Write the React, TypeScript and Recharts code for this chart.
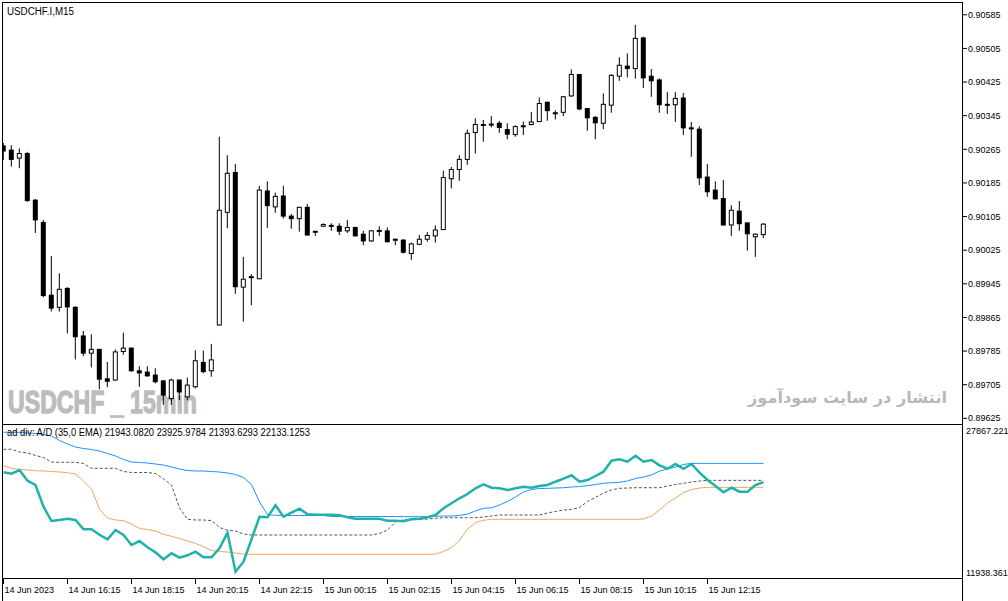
import { ComposedChart, Bar, XAxis, YAxis, LineChart, Line } from 'recharts'

// 15-minute candles, 14 Jun 14:15 .. 15 Jun 14:00
const OPEN = [
  0.90273, 0.90263, 0.90244, 0.90255, 0.90144, 0.90091, 0.89918, 0.89889, 0.89934, 0.89889,
  0.89821, 0.8978, 0.89789, 0.89719, 0.89716, 0.89784, 0.89792, 0.89738, 0.89735, 0.89728,
  0.89714, 0.89672, 0.89716, 0.89676, 0.897, 0.89758, 0.89738, 0.89847, 0.90115, 0.9021,
  0.89937, 0.8996, 0.89957, 0.90166, 0.90128, 0.90154, 0.90106, 0.901, 0.90127, 0.9007,
  0.90082, 0.90084, 0.90082, 0.90071, 0.90079, 0.90063, 0.90047, 0.90071, 0.90071, 0.90051,
  0.90049, 0.90017, 0.90039, 0.90051, 0.90059, 0.90074, 0.90195, 0.90217, 0.90241, 0.90305,
  0.90324, 0.90324, 0.90327, 0.90312, 0.903, 0.9032, 0.90324, 0.90331, 0.90377, 0.90352,
  0.90353, 0.90392, 0.90443, 0.90362, 0.90341, 0.90327, 0.9037, 0.90439, 0.90463, 0.90457,
  0.9053, 0.90439, 0.9043, 0.90372, 0.90371, 0.90387, 0.90316, 0.90313, 0.90199, 0.90168,
  0.90148, 0.90085, 0.90118, 0.9009, 0.90057, 0.90062,
]
const HIGH = [
  0.9028, 0.90275, 0.90267, 0.90259, 0.90147, 0.90097, 0.90011, 0.8997, 0.89937, 0.89892,
  0.89833, 0.89825, 0.8979, 0.89759, 0.89789, 0.89829, 0.89793, 0.89749, 0.89749, 0.89744,
  0.89716, 0.89719, 0.89717, 0.89722, 0.89787, 0.89786, 0.89802, 0.90295, 0.90251, 0.9023,
  0.90009, 0.89968, 0.90178, 0.90189, 0.90162, 0.90178, 0.90111, 0.90128, 0.90135, 0.90071,
  0.90089, 0.90089, 0.90089, 0.90097, 0.90081, 0.90071, 0.90073, 0.90082, 0.90079, 0.90053,
  0.90051, 0.90043, 0.90061, 0.90068, 0.90084, 0.90214, 0.90223, 0.90251, 0.90312, 0.90339,
  0.90335, 0.90344, 0.90332, 0.90327, 0.90322, 0.90331, 0.90354, 0.90388, 0.90378, 0.90358,
  0.90392, 0.90455, 0.90444, 0.90363, 0.90344, 0.90398, 0.90444, 0.90484, 0.90493, 0.90561,
  0.90533, 0.90456, 0.90434, 0.90401, 0.90401, 0.90399, 0.9033, 0.9032, 0.9023, 0.90189,
  0.90192, 0.90132, 0.90142, 0.90091, 0.90065, 0.90089,
]
const LOW = [
  0.9024, 0.90224, 0.9022, 0.9014, 0.90066, 0.89913, 0.89879, 0.89879, 0.89827, 0.89765,
  0.89773, 0.89746, 0.89694, 0.89699, 0.89714, 0.89776, 0.89736, 0.897, 0.89724, 0.89708,
  0.89657, 0.89657, 0.89668, 0.89668, 0.89696, 0.89732, 0.89724, 0.89846, 0.90077, 0.89921,
  0.89855, 0.89894, 0.89956, 0.90078, 0.90114, 0.901, 0.90076, 0.90069, 0.9006, 0.90059,
  0.90081, 0.90071, 0.90061, 0.90066, 0.90058, 0.90037, 0.90045, 0.90059, 0.90044, 0.90037,
  0.90017, 0.90002, 0.90037, 0.90045, 0.90043, 0.90073, 0.90172, 0.9019, 0.90228, 0.90255,
  0.90283, 0.90317, 0.90304, 0.90289, 0.90295, 0.90299, 0.90322, 0.9033, 0.90333, 0.90336,
  0.90344, 0.9039, 0.90358, 0.90309, 0.90289, 0.90313, 0.90352, 0.90428, 0.90436, 0.90433,
  0.90411, 0.9039, 0.90352, 0.90349, 0.9033, 0.90299, 0.90247, 0.9018, 0.90152, 0.90146,
  0.90083, 0.90059, 0.90071, 0.90024, 0.90009, 0.90054,
]
const CLOSE = [
  0.90261, 0.90241, 0.90255, 0.90143, 0.90097, 0.89917, 0.89887, 0.89932, 0.8989, 0.89819,
  0.8978, 0.89789, 0.89718, 0.89713, 0.89783, 0.89792, 0.89738, 0.89733, 0.89726, 0.89712,
  0.8968, 0.89716, 0.89688, 0.89704, 0.89762, 0.89736, 0.89764, 0.9012, 0.90208, 0.89938,
  0.89956, 0.89962, 0.90168, 0.90131, 0.90153, 0.90106, 0.901, 0.90127, 0.90061, 0.90069,
  0.90086, 0.90082, 0.9007, 0.90079, 0.90059, 0.90047, 0.90071, 0.90072, 0.90045, 0.9005,
  0.9002, 0.9004, 0.90051, 0.9006, 0.90073, 0.90198, 0.90217, 0.90241, 0.90303, 0.90324,
  0.90323, 0.90325, 0.90317, 0.90301, 0.90319, 0.90321, 0.9033, 0.90374, 0.90357, 0.90351,
  0.9039, 0.90443, 0.90361, 0.9034, 0.90328, 0.90372, 0.90441, 0.90465, 0.90457, 0.90529,
  0.90435, 0.90428, 0.90371, 0.90371, 0.90386, 0.90316, 0.90315, 0.90197, 0.90164, 0.90147,
  0.90085, 0.9012, 0.90088, 0.90064, 0.90063, 0.90087,
]

// ad div indicator buffers
const AD = [
  22982, 22835, 23225, 22096, 21643, 19353, 17845, 17950, 18087, 17950,
  16969, 16969, 16399, 15914, 16895, 16368, 15313, 15735, 15070, 14542,
  13804, 14437, 13973, 14226, 14606, 14015, 14015, 14964, 16610, 12496,
  13551, 15914, 18298, 18235, 19501, 18298, 18720, 19142, 18551, 18509,
  18509, 18509, 18446, 18235, 18087, 18087, 18087, 18087, 17876, 17876,
  17813, 18024, 18087, 18235, 18478, 19184, 19712, 20239, 20693, 21294,
  21716, 21358, 21294, 21115, 21294, 21463, 21358, 21537, 21643, 21991,
  22307, 22666, 21991, 22170, 22592, 23046, 24206, 24354, 24101, 24734,
  24101, 24280, 23721, 23362, 23858, 23362, 23858, 22940, 22170, 21537,
  20872, 21358, 20936, 20936, 21643, 21943,
]
const AD_UPPER = [
  27202, 27202, 27202, 27129, 27076, 26970, 26812, 26337, 25968, 25652,
  25493, 25388, 25230, 24966, 24702, 24333, 24069, 24016, 23964, 23858,
  23753, 23542, 23331, 23172, 23120, 23120, 23067, 23014, 22909, 22750,
  22434, 21695, 19849, 18530, 18446, 18425, 18425, 18425, 18425, 18425,
  18425, 18319, 18319, 18319, 18319, 18319, 18319, 18319, 18319, 18319,
  18298, 18298, 18298, 18319, 18340, 18372, 18372, 18425, 18583, 18900,
  19184, 19237, 19533, 19902, 20377, 20904, 21168, 21273, 21294, 21326,
  21358, 21432, 21484, 21569, 21695, 21822, 21885, 21927, 22065, 22328,
  22487, 22698, 23120, 23331, 23542, 23805, 23926, 23926, 23926, 23926,
  23926, 23926, 23926, 23926, 23926, 23926,
]
const AD_LOWER = [
  23700, 23404, 23299, 23225, 23151, 23120, 23067, 23014, 22940, 22803,
  22065, 21221, 19111, 18161, 17950, 17876, 17528, 17053, 16948, 16790,
  16441, 16230, 15998, 15735, 15471, 15154, 14732, 14627, 14574, 14469,
  14363, 14331, 14331, 14331, 14331, 14331, 14331, 14331, 14331, 14331,
  14331, 14331, 14331, 14331, 14331, 14331, 14331, 14331, 14331, 14331,
  14331, 14331, 14331, 14331, 14363, 14627, 15049, 15787, 17001, 17686,
  17918, 18024, 18024, 18024, 18024, 18024, 18024, 18024, 18024, 18024,
  18024, 18024, 18024, 18024, 18024, 18024, 18024, 18024, 18024, 18024,
  18056, 18372, 19005, 19744, 20271, 20851, 21168, 21326, 21394, 21394,
  21394, 21394, 21394, 21394, 21394, 21394,
]
const AD_EMA = [
  25409, 25409, 25124, 25019, 24755, 24544, 24069, 24037, 24037, 24037,
  23911, 23404, 23404, 23404, 23404, 23067, 22961, 22961, 22961, 22856,
  22276, 21643, 19216, 18024, 17950, 17950, 17897, 17159, 16863, 16790,
  16473, 16368, 16368, 16368, 16368, 16368, 16368, 16368, 16368, 16368,
  16368, 16368, 16368, 16368, 16368, 16368, 16368, 16526, 16895, 17739,
  17982, 18024, 18024, 18056, 18129, 18193, 18193, 18193, 18193, 18193,
  18267, 18372, 18478, 18478, 18478, 18478, 18478, 18478, 18689, 18847,
  19005, 19058, 19269, 19902, 20324, 20799, 21136, 21294, 21326, 21358,
  21358, 21358, 21358, 21537, 21695, 21822, 21959, 22065, 22133, 22133,
  22133, 22133, 22133, 22133, 22133, 22133,
]

const TIME_TICKS = [0, 8, 16, 24, 32, 40, 48, 56, 64, 72, 80, 88]
const TIME_LABELS = [
  '14 Jun 2023', '14 Jun 16:15', '14 Jun 18:15', '14 Jun 20:15', '14 Jun 22:15', '15 Jun 00:15',
  '15 Jun 02:15', '15 Jun 04:15', '15 Jun 06:15', '15 Jun 08:15', '15 Jun 10:15', '15 Jun 12:15',
]
const PRICE_TICKS = [
  0.89625, 0.89705, 0.89785, 0.89865, 0.89945, 0.90025, 0.90105,
  0.90185, 0.90265, 0.90345, 0.90425, 0.90505, 0.90585,
]
const PRICE_DOMAIN = [0.896162, 0.906131]
const AD_DOMAIN = [11938.361, 27867.221]
const SLOTS = 120

const FONT = '"Liberation Sans", Arial, sans-serif'

const candles = Array.from({ length: SLOTS }, (_, i) =>
  i < OPEN.length ? { i, open: OPEN[i], high: HIGH[i], low: LOW[i], close: CLOSE[i] } : { i }
)
const adRows = AD.map((v, i) => ({ i, ad: v, upper: AD_UPPER[i], lower: AD_LOWER[i], ema: AD_EMA[i] }))

function Candle(props: any) {
  const { x, y, width, height, payload } = props
  if (!payload || payload.high == null) return null
  const top = Math.min(y, y + height)
  const span = Math.abs(height)
  const k = span / (payload.high - payload.low)
  const py = (v: number) => top + (payload.high - v) * k
  const cx = x + width / 2 - 0.5
  const up = payload.close >= payload.open
  const bTop = py(Math.max(payload.open, payload.close))
  const bH = Math.max(py(Math.min(payload.open, payload.close)) - bTop, 1)
  return (
    <g>
      <line x1={cx} x2={cx} y1={top} y2={top + span} stroke="#000" />
      {up
        ? <rect x={cx - 2} y={bTop} width={4} height={bH} fill="#fff" stroke="#000" />
        : <rect x={cx - 2.5} y={bTop - 0.5} width={5} height={bH + 1} fill="#000" />}
    </g>
  )
}

function TimeTick(props: any) {
  const { x, payload } = props
  const label = TIME_LABELS[TIME_TICKS.indexOf(payload.value)]
  return (
    <g>
      <line x1={x} x2={x} y1={155} y2={160} stroke="#000" />
      <text x={x + 1} y={169} fontSize={9} fontFamily={FONT} fill="#000">{label}</text>
    </g>
  )
}

export default function App() {
  return (
    <div style={{ position: 'absolute', left: 0, top: 0, width: 1008, height: 601, overflow: 'hidden', background: '#fff' }}>
      <svg width={1008} height={601} style={{ position: 'absolute', left: 0, top: 0 }}>
        <text x={8} y={413} fontSize={31} fontWeight="bold" fontFamily={FONT}
          fill="#bcbcbc" stroke="#bcbcbc" strokeWidth={1.3} textLength={189} lengthAdjust="spacingAndGlyphs">USDCHF _ 15min</text>
        <text x={748} y={403} fontSize={16} fontWeight="bold" fontFamily='"DejaVu Sans", sans-serif'
          fill="#b8b8b8" textLength={199} lengthAdjust="spacingAndGlyphs">انتشار در سایت سودآموز</text>
      </svg>

      <div style={{ position: 'absolute', left: 0, top: 0 }}>
        <ComposedChart width={1008} height={422} data={candles} margin={{ top: 3, right: 0, bottom: 0, left: 0 }}>
          <XAxis dataKey="i" type="category" scale="band" hide padding={{ left: 0, right: 3 }} />
          <YAxis
            orientation="right"
            width={45}
            domain={PRICE_DOMAIN}
            allowDataOverflow
            ticks={PRICE_TICKS}
            interval={0}
            tickFormatter={(v: number) => v.toFixed(5)}
            axisLine={false}
            tickLine={{ stroke: '#000' }}
            tickSize={4}
            tickMargin={1}
            tick={{ fontSize: 9, fill: '#000', fontFamily: FONT }}
          />
          <Bar
            dataKey={(d: any) => (d.high != null ? [d.low, d.high] : undefined)}
            shape={(p: any) => <Candle {...p} />}
            isAnimationActive={false}
          />
        </ComposedChart>
      </div>

      <div style={{ position: 'absolute', left: 0, top: 424 }}>
        <LineChart width={1008} height={177} data={adRows} margin={{ top: 2, right: 45, bottom: 0, left: 0 }}>
          <XAxis
            dataKey="i"
            type="number"
            domain={[-0.4375, 119.9375]}
            allowDataOverflow
            ticks={TIME_TICKS}
            interval={0}
            height={24}
            axisLine={false}
            tickLine={false}
            tick={(p: any) => <TimeTick {...p} />}
          />
          <YAxis hide domain={AD_DOMAIN} allowDataOverflow />
          <Line dataKey="lower" stroke="#f4a460" strokeWidth={1} dot={false} type="linear" isAnimationActive={false} />
          <Line dataKey="ema" stroke="#555555" strokeWidth={1} strokeDasharray="3 2" dot={false} type="linear" isAnimationActive={false} />
          <Line dataKey="upper" stroke="#1e90ff" strokeWidth={1} dot={false} type="linear" isAnimationActive={false} />
          <Line dataKey="ad" stroke="#20b2aa" strokeWidth={2.5} dot={false} type="linear" isAnimationActive={false} />
        </LineChart>
      </div>

      <svg width={1008} height={601} style={{ position: 'absolute', left: 0, top: 0, pointerEvents: 'none' }}>
        <rect x={0} y={0} width={2} height={601} fill="#fff" />
        <rect x={2.5} y={2.5} width={960} height={919} fill="none" stroke="#000" />
        <rect x={2.5} y={424.5} width={960} height={154} fill="none" stroke="#000" />
        <text x={7} y={15} fontSize={10} fontFamily={FONT} fill="#000" textLength={67} lengthAdjust="spacingAndGlyphs">USDCHF.I,M15</text>
        <text x={7} y={436} fontSize={10} fontFamily={FONT} fill="#000" textLength={303} lengthAdjust="spacingAndGlyphs">
          ad div: A/D (35,0 EMA) 21943.0820 23925.9784 21393.6293 22133.1253
        </text>
        <text x={966} y={434} fontSize={9} fontFamily={FONT} fill="#000">27867.221</text>
        <text x={966} y={576} fontSize={9} fontFamily={FONT} fill="#000">11938.361</text>
      </svg>
    </div>
  )
}
